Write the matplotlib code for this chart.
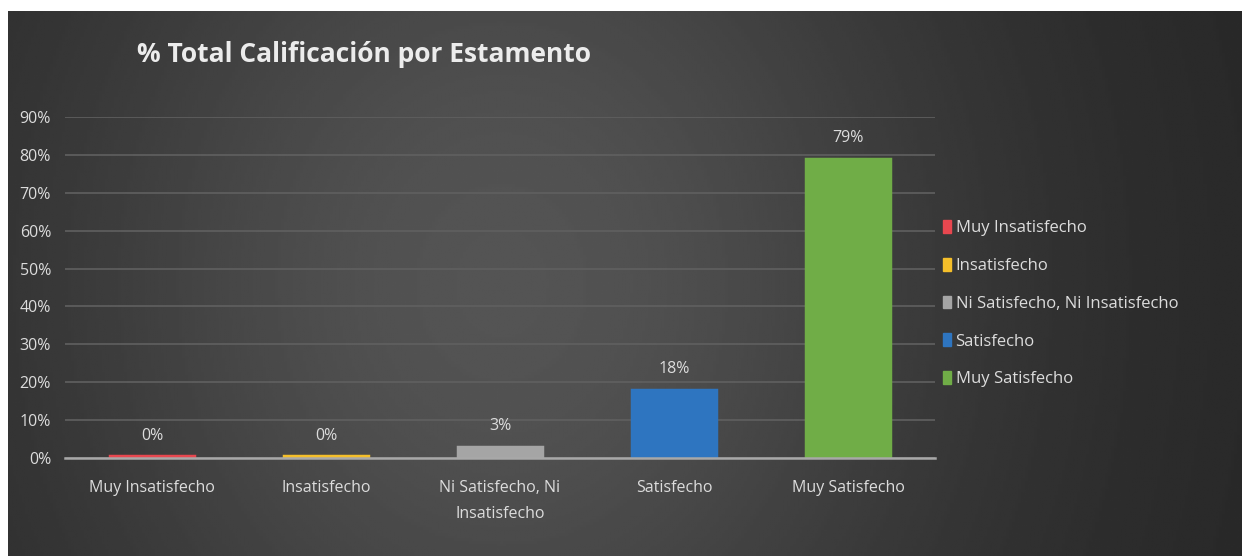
import numpy as np
import matplotlib
matplotlib.use("Agg")
import matplotlib.pyplot as plt
from matplotlib.patches import Patch

plt.rcParams['font.family'] = ['Open Sans', 'DejaVu Sans']

# calificaciones y porcentajes
categorias = ["Muy Insatisfecho", "Insatisfecho", "Ni Satisfecho, Ni Insatisfecho",
              "Satisfecho", "Muy Satisfecho"]
etiquetas_x = ["Muy Insatisfecho", "Insatisfecho", "Ni Satisfecho, Ni\nInsatisfecho",
               "Satisfecho", "Muy Satisfecho"]
porcentajes = [0.0045, 0.0045, 0.03, 0.18, 0.79]
colores = ["#e8474f", "#f5bf2a", "#a5a5a5", "#2e75c0", "#70ad47"]
ticks_y = [0, 0.1, 0.2, 0.3, 0.4, 0.5, 0.6, 0.7, 0.8, 0.9]

txt = "#dcdcdc"

fig = plt.figure(figsize=(12.42, 5.56), dpi=100)
fig.patch.set_facecolor("white")

# fondo oscuro con degradado
bg = fig.add_axes([8 / 1242, 0, 1 - 8 / 1242, 1 - 11 / 556])
bg.set_axis_off()
gx, gy = np.meshgrid(np.linspace(0, 1, 400), np.linspace(0, 1, 200))
fondo = 0.15 + 0.18 * np.exp(-((gx - 0.40) / 0.38) ** 2 - ((gy - 0.5) / 1.0) ** 2)
bg.imshow(fondo, cmap="gray", vmin=0, vmax=1, aspect="auto",
          extent=[0, 1, 0, 1], interpolation="bilinear")
bg.set_xlim(0, 1)
bg.set_ylim(0, 1)

ax = fig.add_axes([65 / 1242, 1 - 458 / 556, 870 / 1242, 341 / 556])
ax.set_facecolor("none")
x = np.arange(len(categorias))
barras = ax.bar(x, porcentajes, width=0.48, color=colores, edgecolor=colores,
                linewidth=2.5, zorder=3)

for xi, v in zip(x, porcentajes):
    ax.annotate(f"{v:.0%}", (xi, v), xytext=(0, 9), textcoords="offset points",
                ha="center", va="bottom", color=txt, fontsize=11.5)

ax.set_xlim(-0.5, len(categorias) - 0.5)
ax.set_ylim(0, 0.9)
ax.set_yticks(ticks_y)
ax.set_yticklabels([f"{t:.0%}" for t in ticks_y], color=txt, fontsize=11.5)
ax.set_xticks(x)
ax.set_xticklabels(etiquetas_x, color=txt, fontsize=11.5, linespacing=1.8)
ax.tick_params(length=0, pad=10)
ax.tick_params(axis="x", pad=16)
ax.grid(axis="y", color="#606060", linewidth=1.2, zorder=0)
for s in ["top", "right", "left"]:
    ax.spines[s].set_visible(False)
ax.spines["bottom"].set_color("#a8a8a8")
ax.spines["bottom"].set_linewidth(1.8)
ax.spines["bottom"].set_zorder(4)

fig.text(137 / 1242, 1 - 55 / 556, "% Total Calificación por Estamento",
         color="#ececec", fontsize=19, fontweight="bold", va="center", ha="left")

handles = [Patch(facecolor=c, edgecolor=c, label=n) for c, n in zip(colores, categorias)]
leg = fig.legend(handles=handles, loc="upper left",
                 bbox_to_anchor=(928 / 1242, 1 - 205 / 556), frameon=False,
                 fontsize=12, labelcolor=txt, handlelength=0.5, handleheight=0.8,
                 handletextpad=0.25, labelspacing=1.3)

fig.savefig("out.png", dpi=100, facecolor=fig.get_facecolor())
